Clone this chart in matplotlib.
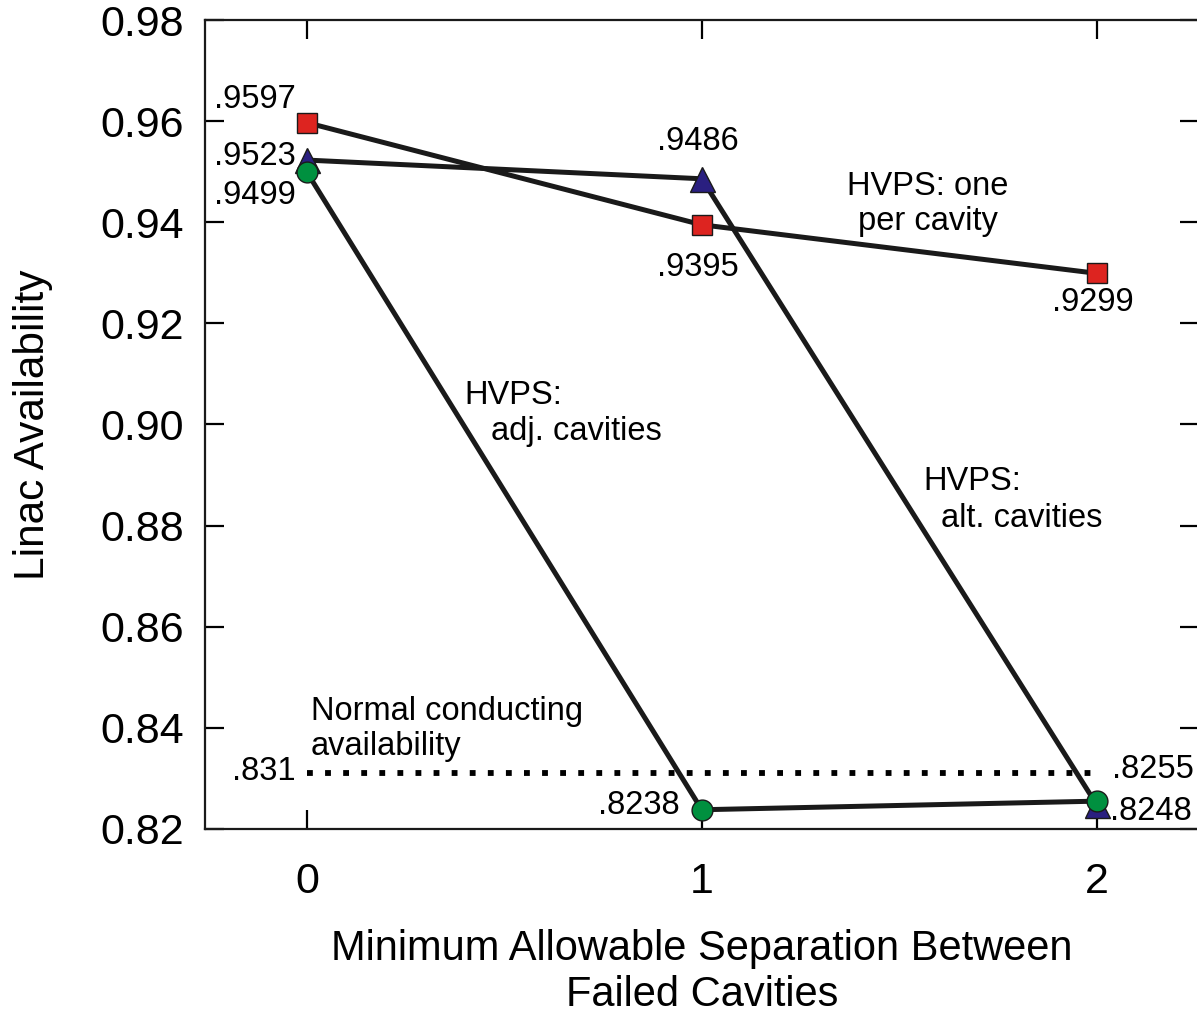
import matplotlib
matplotlib.use('Agg')
import matplotlib.pyplot as plt

plt.rcParams['font.family'] = ['Liberation Sans', 'DejaVu Sans']

separation = [0, 1, 2]
one_per_cavity = [0.9597, 0.9395, 0.9299]
alt_cavities = [0.9523, 0.9486, 0.8248]
adj_cavities = [0.9499, 0.8238, 0.8255]
normal_conducting = 0.831

yticks = [0.82, 0.84, 0.86, 0.88, 0.90, 0.92, 0.94, 0.96, 0.98]

fig = plt.figure(figsize=(11.97, 10.17), dpi=100)
ax = fig.add_axes([0.1713, 0.1849, 0.8300, 0.7954])

# dotted reference line
ax.plot([0, 2], [normal_conducting] * 2, color='black', lw=4.2,
        linestyle=(0, (1, 2.1)), dash_capstyle='butt', zorder=2)

line_kw = dict(color='#1a1a1a', lw=3.6, zorder=3)
ax.plot(separation, adj_cavities, **line_kw)
ax.plot(separation, alt_cavities, **line_kw)
ax.plot(separation, one_per_cavity, **line_kw)

ax.plot(separation, alt_cavities, linestyle='none', marker='^', ms=18,
        mfc='#2a1f80', mec='#1a1a1a', mew=1, zorder=4)
ax.plot(separation, adj_cavities, linestyle='none', marker='o', ms=15,
        mfc='#00903f', mec='#1a1a1a', mew=1, zorder=5)
ax.plot(separation, one_per_cavity, linestyle='none', marker='s', ms=14,
        mfc='#dd2420', mec='#1a1a1a', mew=1, zorder=5)

fs = 23.5
ax.text(-0.028, 0.9642, '.9597', ha='right', va='center', fontsize=fs)
ax.text(-0.028, 0.9531, '.9523', ha='right', va='center', fontsize=fs)
ax.text(-0.028, 0.9452, '.9499', ha='right', va='center', fontsize=fs)
ax.text(0.99, 0.9559, '.9486', ha='center', va='center', fontsize=fs)
ax.text(0.99, 0.9310, '.9395', ha='center', va='center', fontsize=fs)
ax.text(1.99, 0.9242, '.9299', ha='center', va='center', fontsize=fs)
ax.text(-0.028, 0.8313, '.831', ha='right', va='center', fontsize=fs)
ax.text(0.944, 0.8247, '.8238', ha='right', va='center', fontsize=fs)
ax.text(2.04, 0.8318, '.8255', ha='left', va='center', fontsize=fs)
ax.text(2.035, 0.8235, '.8248', ha='left', va='center', fontsize=fs)

ax.text(1.573, 0.9436, 'HVPS: one\nper cavity', ha='center', va='center',
        fontsize=fs, linespacing=1.2)
ax.text(0.399, 0.9057, 'HVPS:', ha='left', va='center', fontsize=fs)
ax.text(0.467, 0.8986, 'adj. cavities', ha='left', va='center', fontsize=fs)
ax.text(1.561, 0.8887, 'HVPS:', ha='left', va='center', fontsize=fs)
ax.text(1.606, 0.8814, 'alt. cavities', ha='left', va='center', fontsize=fs)
ax.text(0.010, 0.8433, 'Normal conducting', ha='left', va='center', fontsize=fs)
ax.text(0.010, 0.8364, 'availability', ha='left', va='center', fontsize=fs)

ax.set_xlim(-0.258, 2.258)
ax.set_ylim(0.82, 0.98)
ax.set_xticks(separation)
ax.set_xticklabels(['0', '1', '2'])
ax.set_yticks(yticks)
ax.set_yticklabels(['%.2f' % v for v in yticks])

ax.tick_params(axis='both', direction='in', length=14, width=1.6,
               labelsize=31, top=True, right=True, pad=15)
ax.tick_params(axis='x', pad=24)
for s in ax.spines.values():
    s.set_linewidth(1.6)
    s.set_color('#1a1a1a')

ax.set_ylabel('Linac Availability', fontsize=30.5, labelpad=34)
ax.set_xlabel('Minimum Allowable Separation Between\nFailed Cavities',
              fontsize=30, labelpad=19, linespacing=1.22)

fig.savefig('out.png', dpi=100)
